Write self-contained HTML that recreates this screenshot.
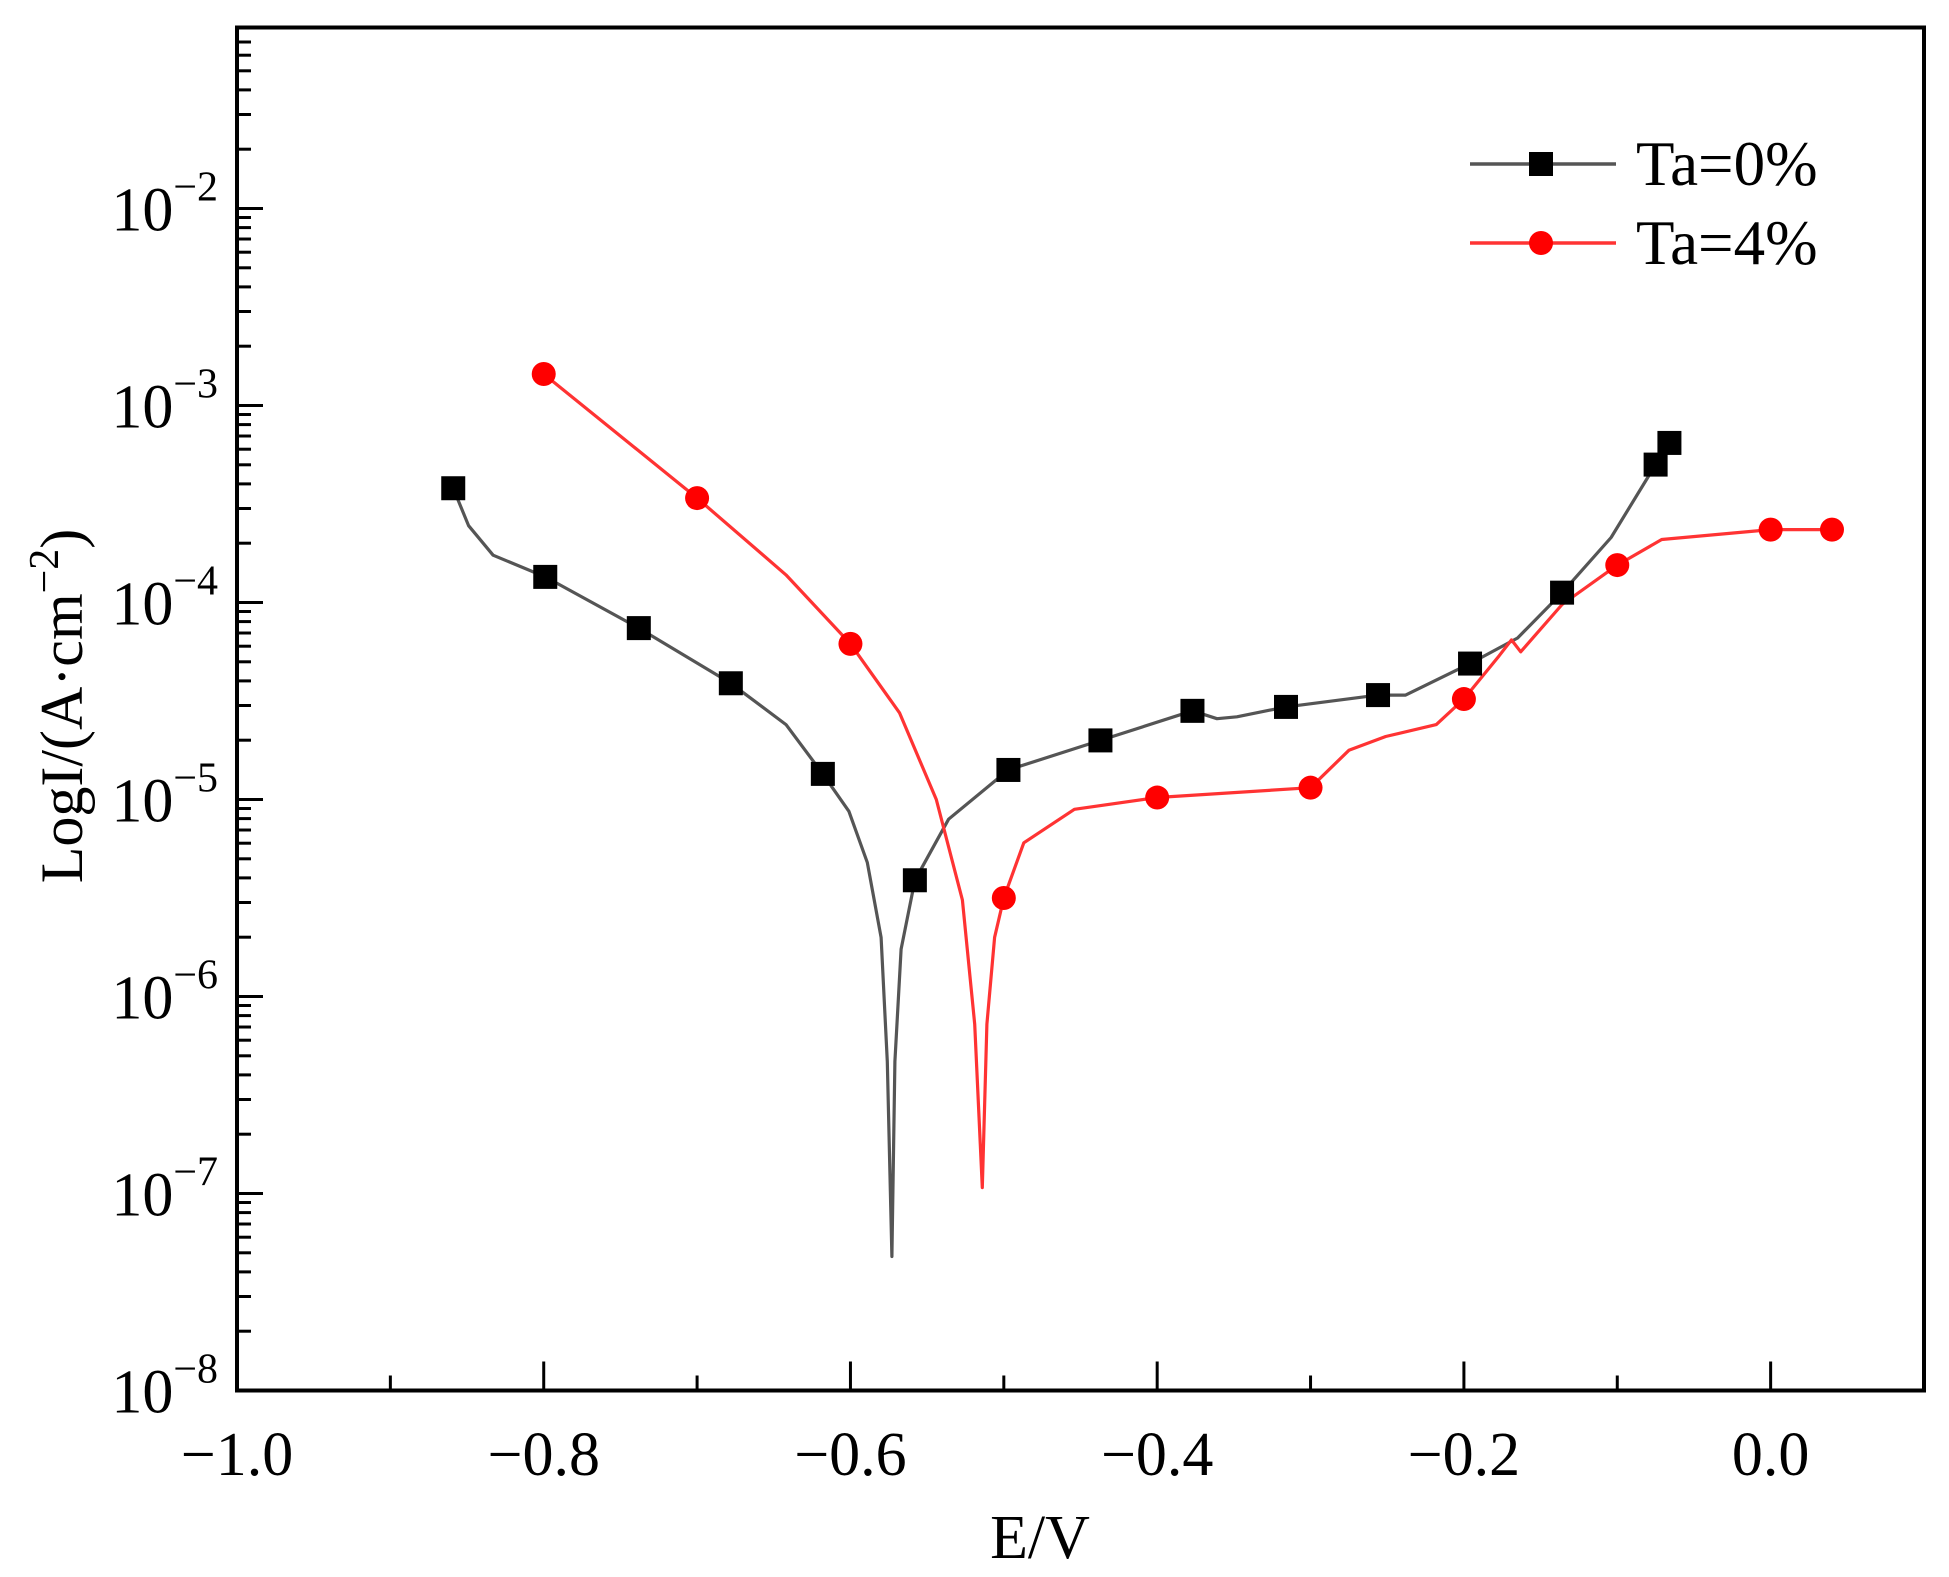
<!DOCTYPE html>
<html><head><meta charset="utf-8"><style>
html,body{margin:0;padding:0;background:#fff;}
svg{display:block;font-family:"Liberation Serif",serif;}
</style></head><body>
<svg id="chart" width="1949" height="1577" xmlns="http://www.w3.org/2000/svg">
<g id="ticks"></g>
<g id="curves"></g>
<g id="marks"></g>
<rect x="237" y="27.5" width="1687" height="1363" fill="none" stroke="#000" stroke-width="4"/>
<text x="1040" y="1558" font-size="62" text-anchor="middle">E/V</text>
<text transform="translate(82,706) rotate(-90)" font-size="60" text-anchor="middle">LogI/(A·cm<tspan dy="-24" font-size="42">−2</tspan><tspan dy="24">)</tspan></text>
<g>
<line x1="1470" y1="164" x2="1616" y2="164" stroke="#555" stroke-width="3.5"/>
<rect x="1529" y="152" width="24" height="24" fill="#000"/>
<text x="1636" y="185" font-size="63">Ta=0%</text>
<line x1="1470" y1="243" x2="1616" y2="243" stroke="#ff3333" stroke-width="3.5"/>
<circle cx="1541" cy="243" r="12" fill="#ff0000"/>
<text x="1636" y="264" font-size="63">Ta=4%</text>
</g>
</svg>
<script>
// data (E in V, log10 of current density)
const xTicks = [-1.0, -0.8, -0.6, -0.4, -0.2, 0.0];
const xTickLabels = ["\u22121.0", "\u22120.8", "\u22120.6", "\u22120.4", "\u22120.2", "0.0"];
const yDecades = [-8, -7, -6, -5, -4, -3, -2];
const blackCurveE = [-0.859,-0.849,-0.833,-0.799,-0.738,-0.678,-0.642,-0.618,-0.601,-0.589,-0.580,-0.576,-0.573,-0.571,-0.567,-0.558,-0.536,-0.497,-0.437,-0.377,-0.361,-0.348,-0.316,-0.256,-0.238,-0.196,-0.165,-0.136,-0.104,-0.075,-0.066];
const blackCurveLogI = [-3.42,-3.61,-3.76,-3.87,-4.13,-4.41,-4.62,-4.87,-5.06,-5.32,-5.70,-6.33,-7.32,-6.33,-5.76,-5.41,-5.10,-4.85,-4.70,-4.55,-4.59,-4.58,-4.53,-4.47,-4.47,-4.31,-4.18,-3.95,-3.67,-3.30,-3.19];
const redCurveE = [-0.800,-0.700,-0.642,-0.600,-0.568,-0.544,-0.527,-0.519,-0.514,-0.511,-0.506,-0.500,-0.487,-0.454,-0.400,-0.300,-0.275,-0.251,-0.218,-0.200,-0.177,-0.169,-0.163,-0.136,-0.100,-0.071,0.000,0.040];
const redCurveLogI = [-2.84,-3.47,-3.86,-4.21,-4.56,-5.00,-5.51,-6.14,-6.97,-6.14,-5.70,-5.50,-5.22,-5.05,-4.99,-4.94,-4.75,-4.68,-4.62,-4.49,-4.27,-4.19,-4.25,-4.01,-3.81,-3.68,-3.63,-3.63];
const blackMarkE = [-0.859,-0.799,-0.738,-0.678,-0.618,-0.558,-0.497,-0.437,-0.377,-0.316,-0.256,-0.196,-0.136,-0.075,-0.066];
const blackMarkLogI = [-3.42,-3.87,-4.13,-4.41,-4.87,-5.41,-4.85,-4.70,-4.55,-4.53,-4.47,-4.31,-3.95,-3.30,-3.19];
const redMarkE = [-0.8,-0.7,-0.6,-0.5,-0.4,-0.3,-0.2,-0.1,0.0,0.04];
const redMarkLogI = [-2.84,-3.47,-4.21,-5.50,-4.99,-4.94,-4.49,-3.81,-3.63,-3.63];

const L=237,R=1924,T=27.5,B=1390.5, XMIN=-1.0, XMAX=0.1, DEC=197;
function sx(v){return L+(v-XMIN)/(XMAX-XMIN)*(R-L);}
function sy(lg){return B-(lg+8)*DEC;}
const NS="http://www.w3.org/2000/svg";
function mk(tag,attrs,parent){const e=document.createElementNS(NS,tag);for(const k in attrs)e.setAttribute(k,attrs[k]);parent.appendChild(e);return e;}
const tg=document.getElementById('ticks');
for(let i=0;i<xTicks.length;i++){
  const x=sx(xTicks[i]);
  const t=mk('line',{x1:x,y1:B,x2:x,y2:B-29,stroke:'#000','stroke-width':3},tg);
  
  
  const lb=mk('text',{x:x,y:1475,'font-size':62,'text-anchor':'middle'},tg);
  lb.textContent=xTickLabels[i];
  
  
}
for(let v=-0.9;v<0.1;v+=0.2){
  const x=sx(v);
  const t=mk('line',{x1:x,y1:B,x2:x,y2:B-15,stroke:'#000','stroke-width':3},tg);
  
  
}
for(const d of yDecades){
  const y=sy(d);
  const t=mk('line',{x1:L,y1:y,x2:L+26,y2:y,stroke:'#000','stroke-width':3},tg);
  
  
  const lb=mk('text',{x:218,y:y+22,'font-size':62,'text-anchor':'end'},tg);
  lb.innerHTML='10<tspan dy="-30" font-size="42">\u2212'+Math.abs(d)+'</tspan>';
  
  
}
for(let d=-8;d<=-2;d++){
  for(let m=2;m<=9;m++){
    const y=sy(d+Math.log10(m));
    if(y<T+4)continue;
    const t=mk('line',{x1:L,y1:y,x2:L+14,y2:y,stroke:'#000','stroke-width':3},tg);
    
    
  }
}
const cg=document.getElementById('curves');
function curve(xs,ys,col,name){
  let d='';
  for(let i=0;i<xs.length;i++)d+=(i?'L':'M')+sx(xs[i]).toFixed(1)+','+sy(ys[i]).toFixed(1);
  const p=mk('path',{d:d,fill:'none',stroke:col,'stroke-width':3.2,'stroke-linejoin':'round'},cg);
  
  
}
curve(blackCurveE,blackCurveLogI,'#555','curve-ta0');
curve(redCurveE,redCurveLogI,'#ff3333','curve-ta4');
const mg=document.getElementById('marks');
for(let i=0;i<blackMarkE.length;i++){
  const r=mk('rect',{x:sx(blackMarkE[i])-12,y:sy(blackMarkLogI[i])-12,width:24,height:24,fill:'#000'},mg);
  
  
}
for(let i=0;i<redMarkE.length;i++){
  const c=mk('circle',{cx:sx(redMarkE[i]),cy:sy(redMarkLogI[i]),r:12,fill:'#ff0000'},mg);
  
  
}
</script>
</body></html>
